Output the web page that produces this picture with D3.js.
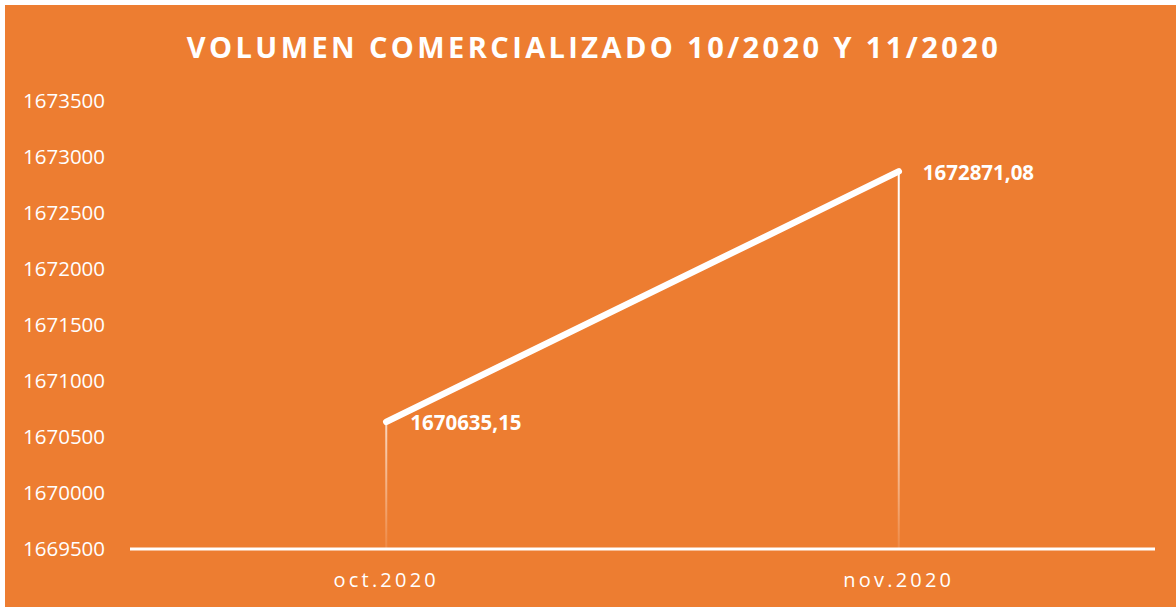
<!DOCTYPE html>
<html>
<head>
<meta charset="utf-8">
<script src="https://cdn.jsdelivr.net/npm/d3@7"></script>
<style>
  body { margin: 0; background: #fff; }
  svg text { font-family: "Open Sans", "Noto Sans", sans-serif; }
</style>
</head>
<body>
<div class="chart-container"></div>
<script>
// Chart data
const categories = ['oct.2020', 'nov.2020'];
const values = [1670635.15, 1672871.08];
const valueLabels = ['1670635,15', '1672871,08'];
const yTicks = [1669500, 1670000, 1670500, 1671000, 1671500, 1672000, 1672500, 1673000, 1673500];
const title = 'VOLUMEN COMERCIALIZADO 10/2020 Y 11/2020';

function draw() {
    const width = 1176;
    const height = 607;
    const marginTop = 101;
    const marginRight = 21;
    const marginBottom = 58;
    const marginLeft = 130;
    const orange = '#ED7D31';

    const svg = d3.select('.chart-container').append('svg')
        .attr('width', width)
        .attr('height', height);

    // background
    svg.append('rect')
        .attr('x', 5).attr('y', 5)
        .attr('width', width - 5).attr('height', height - 5)
        .attr('fill', orange);

    const data = categories.map((c, i) => ({ cat: c, value: values[i], label: valueLabels[i] }));

    const x = d3.scaleBand()
        .domain(categories)
        .range([marginLeft, width - marginRight]);

    const y = d3.scaleLinear()
        .domain([d3.min(yTicks), d3.max(yTicks)])
        .range([height - marginBottom, marginTop]);

    const cx = d => x(d.cat) + x.bandwidth() / 2;

    // title
    svg.append('text')
        .attr('x', 594)
        .attr('y', 58)
        .attr('text-anchor', 'middle')
        .attr('fill', '#fff')
        .style('font-size', '29px')
        .style('font-weight', 'bold')
        .style('letter-spacing', '3.4px')
        .text(title);

    // y tick labels
    svg.append('g')
        .selectAll('text')
        .data(yTicks)
        .join('text')
        .attr('x', 23)
        .attr('y', d => y(d))
        .attr('dy', '0.35em')
        .attr('fill', '#fff')
        .style('font-size', '20.5px')
        .text(d => d);

    // drop lines with fade
    const defs = svg.append('defs');
    const grad = defs.append('linearGradient')
        .attr('id', 'fade')
        .attr('gradientUnits', 'userSpaceOnUse')
        .attr('x1', 0).attr('x2', 0)
        .attr('y1', y(d3.max(values))).attr('y2', y(d3.min(yTicks)));
    grad.append('stop').attr('offset', '0%').attr('stop-color', '#fff').attr('stop-opacity', 1);
    grad.append('stop').attr('offset', '55%').attr('stop-color', '#fff').attr('stop-opacity', 0.9);
    grad.append('stop').attr('offset', '100%').attr('stop-color', '#fff').attr('stop-opacity', 0.1);

    svg.append('g')
        .selectAll('rect')
        .data(data)
        .join('rect')
        .attr('x', d => cx(d) - 1)
        .attr('y', d => y(d.value))
        .attr('width', 2)
        .attr('height', d => y(d3.min(yTicks)) - y(d.value))
        .attr('fill', 'url(#fade)');

    // x axis line
    svg.append('line')
        .attr('x1', marginLeft).attr('x2', width - marginRight)
        .attr('y1', y(d3.min(yTicks))).attr('y2', y(d3.min(yTicks)))
        .attr('stroke', '#fff')
        .attr('stroke-width', 3);

    // x labels
    svg.append('g')
        .selectAll('text')
        .data(categories)
        .join('text')
        .attr('x', d => x(d) + x.bandwidth() / 2)
        .attr('y', 587)
        .attr('text-anchor', 'middle')
        .attr('fill', '#fff')
        .style('font-size', '20px')
        .style('letter-spacing', '3.2px')
        .text(d => d);

    // line
    const line = d3.line()
        .x(d => cx(d))
        .y(d => y(d.value));

    svg.append('path')
        .datum(data)
        .attr('d', line)
        .attr('fill', 'none')
        .attr('stroke', '#fff')
        .attr('stroke-width', 6.5)
        .attr('stroke-linecap', 'round');

    // data labels
    svg.append('g')
        .selectAll('text')
        .data(data)
        .join('text')
        .attr('x', d => cx(d) + 24)
        .attr('y', d => y(d.value) + 1)
        .attr('dy', '0.35em')
        .attr('fill', '#fff')
        .style('font-size', '20.5px')
        .style('font-weight', 'bold')
        .text(d => d.label);
}

draw();
</script>
</body>
</html>
